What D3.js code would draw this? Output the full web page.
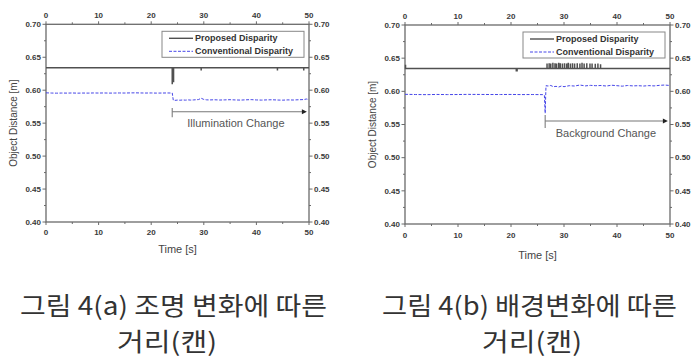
<!DOCTYPE html>
<html>
<head>
<meta charset="utf-8">
<script src="https://d3js.org/d3.v7.min.js"></script>
<style>
  html, body { margin: 0; padding: 0; background: #fff; }
  svg { display: block; }
  .tick-label { font-family: "Liberation Sans", Arial, sans-serif; font-weight: bold; font-size: 8px; fill: #3a3a3a; }
</style>
</head>
<body>
<svg id="chart" width="692" height="361"></svg>
<script>
// x / y axis ticks (shared by both panels)
const xTicks = [0, 10, 20, 30, 40, 50];
const xMinor = [5, 15, 25, 35, 45];
const yTicks = [0.40, 0.45, 0.50, 0.55, 0.60, 0.65, 0.70];
const yMinor = [0.425, 0.475, 0.525, 0.575, 0.625, 0.675];

// panel (a): illumination change
const convA_t = [0, 1, 2, 3, 4, 5, 6, 7, 8, 9, 10, 11, 12, 13, 14, 15, 16, 17, 18, 19, 20, 21, 22, 23, 24, 24.2,
  24.5, 25, 25.5, 26, 26.5, 27, 27.5, 28, 28.5, 29, 29.5, 30, 30.5, 31, 32, 33, 34, 35, 36, 37, 38, 39, 40, 41, 42, 43, 44, 45, 46, 47, 48, 49, 49.5, 50];
const convA_v = [0.5960, 0.5957, 0.5955, 0.5957, 0.5956, 0.5958, 0.5955, 0.5957, 0.5956, 0.5958, 0.5957, 0.5958, 0.5956, 0.5957, 0.5958, 0.5957, 0.5959, 0.5960, 0.5958, 0.5957, 0.5958, 0.5956, 0.5957, 0.5958, 0.5957, 0.5848,
  0.5846, 0.5850, 0.5848, 0.5852, 0.5849, 0.5853, 0.5850, 0.5852, 0.5855, 0.5858, 0.5878, 0.5860, 0.5854, 0.5852, 0.5855, 0.5851, 0.5853, 0.5856, 0.5852, 0.5850, 0.5854, 0.5857, 0.5852, 0.5850, 0.5853, 0.5855, 0.5851, 0.5849, 0.5853, 0.5851, 0.5855, 0.5858, 0.5866, 0.5858];
const propA_level = 0.634;
const propA_spikeT = [24.0, 24.25, 29.5, 44.0, 49.0];
const propA_spikeV = [0.609, 0.612, 0.630, 0.630, 0.630];

// panel (b): background change
const convB_t = [0, 2, 4, 6, 8, 10, 12, 14, 16, 18, 20, 22, 24, 26, 26.3, 26.45, 26.6, 27, 27.5, 28, 28.5, 29, 29.5, 30, 31, 32, 33, 34, 35, 36, 37, 38, 39, 40, 41, 42, 43, 44, 45, 46, 47, 48, 49, 50];
const convB_v = [0.5955, 0.5952, 0.5950, 0.5953, 0.5951, 0.5952, 0.5954, 0.5953, 0.5952, 0.5952, 0.5953, 0.5951, 0.5952, 0.5950, 0.5940, 0.5670, 0.6085, 0.6080, 0.6088, 0.6070, 0.6075, 0.6065, 0.6080, 0.6070, 0.6085, 0.6080, 0.6095, 0.6082, 0.6090, 0.6085, 0.6088, 0.6080, 0.6092, 0.6085, 0.6078, 0.6088, 0.6082, 0.6085, 0.6080, 0.6086, 0.6082, 0.6090, 0.6095, 0.6088];
const propB_level = 0.6345;
const propB_spikeT = [0.1, 21.0, 21.15, 26.8, 27.2, 27.5, 27.9, 28.3, 28.6, 29.0, 29.3, 29.7, 30.1, 30.5, 30.8, 31.2, 31.6, 32.0, 32.5, 33.0, 33.4, 33.8, 34.3, 34.9, 35.3, 35.9, 36.4, 36.9];
const propB_spikeV = [0.640, 0.630, 0.630, 0.642, 0.6425, 0.642, 0.643, 0.6425, 0.642, 0.643, 0.6425, 0.642, 0.6425, 0.642, 0.643, 0.642, 0.6425, 0.642, 0.6425, 0.642, 0.643, 0.642, 0.6425, 0.642, 0.642, 0.6415, 0.642, 0.641];

const legendNames = ["Proposed Disparity", "Conventional Disparity"];
const captions = [
  ["그림 4(a) 조명 변화에 따른", "거리(캔)"],
  ["그림 4(b) 배경변화에 따른", "거리(캔)"]
];

const panels = [
  { x0: 46, x1: 309, yTop: 24.3, yBot: 222, convT: convA_t, convV: convA_v, level: propA_level, spT: propA_spikeT, spV: propA_spikeV,
    ann: { t0: 24, t1: 49.6, y: 0.5673, yHi: 0.5728, yLo: 0.5591, label: "Illumination Change", labelT: 36.1, labelY: 0.550 },
    xTitleY: 249, yTitleX: 13, topLabY: 15, botLabY: 232,
    cap: captions[0], capX0: 20, capX1: 327, cap2X: 167 },
  { x0: 405, x1: 670, yTop: 25, yBot: 224, convT: convB_t, convV: convB_v, level: propB_level, spT: propB_spikeT, spV: propB_spikeV,
    ann: { t0: 26.45, t1: 49.6, y: 0.5553, yHi: 0.5643, yLo: 0.5447, label: "Background Change", labelT: 37.9, labelY: 0.5372 },
    xTitleY: 255, yTitleX: 372, topLabY: 16, botLabY: 235,
    cap: captions[1], capX0: 382, capX1: 677, cap2X: 532 }
];

const svg = d3.select("#chart");
const axisColor = "#6a6a6a";

panels.forEach(p => {
  const x = d3.scaleLinear().domain([0, 50]).range([p.x0, p.x1]);
  const y = d3.scaleLinear().domain([0.40, 0.70]).range([p.yBot, p.yTop]);
  const g = svg.append("g");

  // frame
  g.append("rect")
    .attr("x", x(0)).attr("y", y(0.70))
    .attr("width", x(50) - x(0)).attr("height", y(0.40) - y(0.70))
    .attr("fill", "none").attr("stroke", axisColor).attr("stroke-width", 1.3);

  // ticks, outward on all four sides
  const tk = (vals, len) => {
    vals.forEach(v => {
      g.append("line").attr("x1", x(v)).attr("x2", x(v)).attr("y1", y(0.40)).attr("y2", y(0.40) + len).attr("stroke", axisColor);
      g.append("line").attr("x1", x(v)).attr("x2", x(v)).attr("y1", y(0.70)).attr("y2", y(0.70) - len).attr("stroke", axisColor);
    });
  };
  const tky = (vals, len) => {
    vals.forEach(v => {
      g.append("line").attr("y1", y(v)).attr("y2", y(v)).attr("x1", x(0)).attr("x2", x(0) - len).attr("stroke", axisColor);
      g.append("line").attr("y1", y(v)).attr("y2", y(v)).attr("x1", x(50)).attr("x2", x(50) + len).attr("stroke", axisColor);
    });
  };
  tk(xTicks, 3); tk(xMinor, 2);
  tky(yTicks, 3.5); tky(yMinor, 2);

  xTicks.forEach(v => {
    g.append("text").attr("class", "tick-label").attr("x", x(v)).attr("y", p.botLabY).attr("dy", "0.35em").attr("text-anchor", "middle").text(v);
    g.append("text").attr("class", "tick-label").attr("x", x(v)).attr("y", p.topLabY).attr("dy", "0.35em").attr("text-anchor", "middle").text(v);
  });
  yTicks.forEach(v => {
    g.append("text").attr("class", "tick-label").attr("x", x(0) - 5).attr("y", y(v)).attr("dy", "0.35em").attr("text-anchor", "end").text(v.toFixed(2));
    g.append("text").attr("class", "tick-label").attr("x", x(50) + 5).attr("y", y(v)).attr("dy", "0.35em").attr("text-anchor", "start").text(v.toFixed(2));
  });

  // axis titles
  g.append("text").attr("x", (x(0) + x(50)) / 2).attr("y", p.xTitleY).attr("dy", "0.35em")
    .attr("text-anchor", "middle").attr("font-family", "Liberation Sans, Arial, sans-serif").attr("font-size", 11).attr("fill", "#444")
    .text("Time [s]");
  g.append("text").attr("transform", `translate(${p.yTitleX},${(y(0.40) + y(0.70)) / 2}) rotate(-90)`).attr("dy", "0.35em")
    .attr("text-anchor", "middle").attr("font-family", "Liberation Sans, Arial, sans-serif").attr("font-size", 10).attr("fill", "#444")
    .text("Object Distance [m]");

  // proposed disparity: flat level with spikes
  const pts = [[0, p.level]];
  p.spT.forEach((t, i) => { pts.push([t, p.level], [t, p.spV[i]], [t, p.level]); });
  pts.push([50, p.level]);
  g.append("path")
    .attr("d", d3.line().x(d => x(d[0])).y(d => y(d[1]))(pts))
    .attr("fill", "none").attr("stroke", "#505050").attr("stroke-width", 1.5);

  // conventional disparity
  const conv = p.convT.map((t, i) => [t, p.convV[i]]);
  g.append("path")
    .attr("d", d3.line().x(d => x(d[0])).y(d => y(d[1]))(conv))
    .attr("fill", "none").attr("stroke", "#4646e8").attr("stroke-width", 1).attr("stroke-dasharray", "3,1.5");

  // annotation arrow
  const a = p.ann;
  g.append("line").attr("x1", x(a.t0)).attr("x2", x(a.t0)).attr("y1", y(a.yHi)).attr("y2", y(a.yLo)).attr("stroke", "#888").attr("stroke-width", 1.2);
  g.append("line").attr("x1", x(a.t0)).attr("x2", x(a.t1) - 4).attr("y1", y(a.y)).attr("y2", y(a.y)).attr("stroke", "#777").attr("stroke-width", 1.2);
  g.append("path")
    .attr("d", `M${x(a.t1)},${y(a.y)} l-5,-2.5 l0,5 Z`)
    .attr("fill", "#222");
  g.append("text").attr("x", x(a.labelT)).attr("y", y(a.labelY)).attr("dy", "0.35em")
    .attr("text-anchor", "middle").attr("font-family", "Liberation Sans, Arial, sans-serif").attr("font-size", 11).attr("fill", "#555")
    .text(a.label);

  // legend
  const lw = 142, lh = 26;
  const lx = x(50) - 5 - lw, ly = y(0.70) + 7;
  const leg = g.append("g").attr("transform", `translate(${lx},${ly})`);
  leg.append("rect").attr("width", lw).attr("height", lh).attr("fill", "#fff").attr("stroke", "#888").attr("stroke-width", 1);
  const styles = [{ c: "#505050", dash: null, w: 1.4 }, { c: "#4646e8", dash: "3,1.5", w: 1 }];
  legendNames.forEach((n, i) => {
    const yy = 7 + i * 13;
    leg.append("line").attr("x1", 7).attr("x2", 31).attr("y1", yy).attr("y2", yy)
      .attr("stroke", styles[i].c).attr("stroke-width", styles[i].w).attr("stroke-dasharray", styles[i].dash);
    leg.append("text").attr("x", 33).attr("y", yy).attr("dy", "0.35em")
      .attr("font-family", "Liberation Sans, Arial, sans-serif").attr("font-weight", "bold").attr("font-size", 9).attr("fill", "#333")
      .text(n);
  });

  // caption
  svg.append("text").attr("x", p.capX0).attr("y", 315)
    .attr("textLength", p.capX1 - p.capX0).attr("lengthAdjust", "spacingAndGlyphs")
    .attr("font-family", "Noto Sans CJK KR, sans-serif").attr("font-size", 25).attr("fill", "#333")
    .text(p.cap[0]);
  svg.append("text").attr("x", p.cap2X - 50).attr("y", 351)
    .attr("textLength", 100).attr("lengthAdjust", "spacingAndGlyphs")
    .attr("font-family", "Noto Sans CJK KR, sans-serif").attr("font-size", 25).attr("fill", "#333")
    .text(p.cap[1]);
});
</script>
</body>
</html>
